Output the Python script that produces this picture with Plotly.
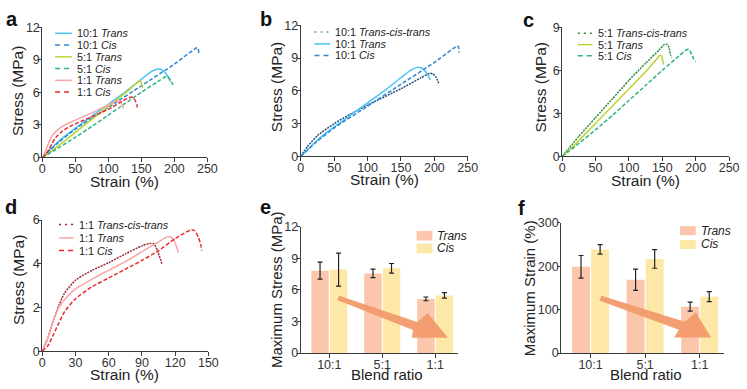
import plotly.graph_objects as go

W, H = 747, 389
FONT = "Liberation Sans, Arial, sans-serif"

# ---------------- data: stress-strain curves (strain %, stress MPa) ----------------
r10_tct_x = [0, 10, 25, 50, 75, 100, 150, 180, 193, 198, 202, 205, 207]
r10_tct_y = [0, 0.9, 1.9, 3.0, 3.9, 4.7, 6.2, 7.2, 7.6, 7.55, 7.3, 6.95, 6.6]
r10_trans_x = [0, 10, 25, 50, 75, 100, 125, 150, 165, 175, 182, 187, 191, 194]
r10_trans_y = [0, 0.6, 1.5, 2.7, 3.8, 4.9, 6.0, 7.2, 7.9, 8.15, 8.05, 7.75, 7.35, 7.0]
r10_cis_x = [0, 25, 50, 100, 150, 200, 234, 236, 237]
r10_cis_y = [0, 1.4, 2.6, 4.6, 6.6, 8.6, 10.1, 10.05, 9.5]

r5_tct_x = [0, 10, 25, 50, 75, 100, 125, 145, 153, 157, 160, 162, 164]
r5_tct_y = [0, 0.55, 1.4, 2.7, 4.0, 5.3, 6.5, 7.4, 7.8, 7.8, 7.6, 7.1, 6.9]
r5_trans_x = [0, 10, 25, 50, 75, 100, 125, 140, 147, 149, 151, 152]
r5_trans_y = [0, 0.4, 1.1, 2.3, 3.5, 4.7, 5.9, 6.7, 7.05, 7.0, 6.6, 6.4]
r5_cis_x = [0, 10, 25, 50, 75, 100, 125, 150, 175, 187, 190, 194, 197, 200]
r5_cis_y = [0, 0.35, 0.9, 1.85, 2.85, 3.9, 4.95, 6.0, 7.0, 7.45, 7.45, 7.1, 6.8, 6.6]

r1_tct_x = [0, 5, 10, 15, 20, 30, 45, 60, 75, 90, 97, 101, 104, 108]
r1_tct_y = [0, 0.6, 1.4, 2.1, 2.65, 3.25, 3.7, 4.05, 4.45, 4.82, 4.93, 4.9, 4.6, 4.0]
r1_trans_x = [0, 5, 10, 15, 20, 30, 45, 60, 75, 90, 105, 113, 117, 120, 123]
r1_trans_y = [0, 0.6, 1.4, 2.0, 2.35, 2.85, 3.3, 3.7, 4.1, 4.55, 5.0, 5.23, 5.2, 4.95, 4.5]
r1_cis_x = [0, 5, 10, 15, 20, 30, 45, 60, 75, 90, 105, 120, 130, 135, 138, 141, 143, 144]
r1_cis_y = [0, 0.25, 0.75, 1.3, 1.8, 2.4, 2.95, 3.35, 3.75, 4.15, 4.6, 5.15, 5.45, 5.56, 5.5, 5.2, 4.9, 4.6]

# ---------------- data: bar charts ----------------
ratios = ["10:1", "5:1", "1:1"]
stress_trans = [7.83, 7.57, 5.15]
stress_trans_err = [0.81, 0.40, 0.18]
stress_cis = [7.93, 8.05, 5.48]
stress_cis_err = [1.57, 0.46, 0.26]
strain_trans = [199, 169, 107]
strain_trans_err = [26, 24.5, 10.5]
strain_cis = [239, 217, 130]
strain_cis_err = [11, 21.5, 11.5]

strain_ticks = [0, 50, 100, 150, 200, 250]
strain_ticks_d = [0, 30, 60, 90, 120, 150]

# colours
C10T, C10C, C10X = "#4cc3f5", "#2e86d4", "#25507f"
C5T, C5C, C5X = "#bad532", "#2db487", "#2e8b3a"
C1T, C1C, C1X = "#f8a5a5", "#ec2a2e", "#9e2a35"
BAR_T, BAR_C = "#fcc6ad", "#fde8a8"
ARROW = "#f19a6c"

DASH = {"solid": "solid", "dash": "4px,2px", "dot": "2px,1px"}
LDASH = {"solid": "solid", "dash": "5px,4px", "dot": "2px,4px"}


def px(x, y):
    return x / W, 1 - y / H


def xdom(a, b):
    return [a / W, b / W]


def ydom(top, bottom):
    return [1 - bottom / H, 1 - top / H]


fig = go.Figure()


def curve(x, y, color, dash, xa, ya):
    fig.add_trace(go.Scatter(x=x, y=y, mode="lines", xaxis=xa, yaxis=ya,
                             line=dict(color=color, width=1.5, dash=DASH[dash], shape="spline", smoothing=0.6),
                             showlegend=False, hoverinfo="skip"))


# panel a
curve(r10_trans_x, r10_trans_y, C10T, "solid", "x", "y")
curve(r10_cis_x, r10_cis_y, C10C, "dash", "x", "y")
curve(r5_trans_x, r5_trans_y, C5T, "solid", "x", "y")
curve(r5_cis_x, r5_cis_y, C5C, "dash", "x", "y")
curve(r1_trans_x, r1_trans_y, C1T, "solid", "x", "y")
curve(r1_cis_x, r1_cis_y, C1C, "dash", "x", "y")
# panel b
curve(r10_tct_x, r10_tct_y, C10X, "dot", "x2", "y2")
curve(r10_trans_x, r10_trans_y, C10T, "solid", "x2", "y2")
curve(r10_cis_x, r10_cis_y, C10C, "dash", "x2", "y2")
# panel c
curve(r5_tct_x, r5_tct_y, C5X, "dot", "x3", "y3")
curve(r5_trans_x, r5_trans_y, C5T, "solid", "x3", "y3")
curve(r5_cis_x, r5_cis_y, C5C, "dash", "x3", "y3")
# panel d
curve(r1_tct_x, r1_tct_y, C1X, "dot", "x4", "y4")
curve(r1_trans_x, r1_trans_y, C1T, "solid", "x4", "y4")
curve(r1_cis_x, r1_cis_y, C1C, "dash", "x4", "y4")

# bar panels
idx = list(range(len(ratios)))


def bars(vals, errs, color, xa, ya):
    fig.add_trace(go.Bar(x=idx, y=vals, xaxis=xa, yaxis=ya, marker=dict(color=color, line=dict(width=0)),
                         error_y=dict(type="data", array=errs, color="#222", thickness=1.2, width=2.5),
                         showlegend=False, hoverinfo="skip"))


bars(stress_trans, stress_trans_err, BAR_T, "x5", "y5")
bars(stress_cis, stress_cis_err, BAR_C, "x5", "y5")
bars(strain_trans, strain_trans_err, BAR_T, "x6", "y6")
bars(strain_cis, strain_cis_err, BAR_C, "x6", "y6")

AX = dict(showline=True, linecolor="#3a3a3a", linewidth=1, ticks="outside",
          tickcolor="#3a3a3a", tickwidth=1, tickfont=dict(size=12.5, color="#333", family=FONT),
          showgrid=False, zeroline=False)


def xax(dom, anchor, rng, tv, tt=None):
    d = dict(AX, domain=dom, anchor=anchor, range=rng, tickvals=tv, ticklen=4, ticklabelstandoff=-4)
    if tt is not None:
        d["ticktext"] = tt
    return d


def yax(dom, anchor, rng, tv):
    return dict(AX, domain=dom, anchor=anchor, range=rng, tickvals=tv, ticklen=3, ticklabelstandoff=-4)


layout = dict(
    width=W, height=H, autosize=False, margin=dict(l=0, r=0, t=0, b=0),
    paper_bgcolor="white", plot_bgcolor="white", font=dict(family=FONT),
    barmode="group", bargap=0.3, bargroupgap=0.06,
    xaxis=xax(xdom(40, 208), "y", [0, 250], strain_ticks),
    yaxis=yax(ydom(21, 156), "x", [0, 12], [0, 3, 6, 9, 12]),
    xaxis2=xax(xdom(303, 473), "y2", [0, 250], strain_ticks),
    yaxis2=yax(ydom(19, 155), "x2", [0, 12], [0, 3, 6, 9, 12]),
    xaxis3=xax(xdom(569, 739), "y3", [0, 250], strain_ticks),
    yaxis3=yax(ydom(21, 155), "x3", [0, 9], [0, 3, 6, 9]),
    xaxis4=xax(xdom(40, 209), "y4", [0, 150], strain_ticks_d),
    yaxis4=yax(ydom(221, 357), "x4", [0, 6], [0, 2, 4, 6]),
    xaxis5=xax(xdom(303, 463), "y5", [-0.54, 2.43], idx, ratios),
    yaxis5=yax(ydom(228, 359), "x5", [0, 12], [0, 3, 6, 9, 12]),
    xaxis6=xax(xdom(568, 734), "y6", [-0.54, 2.45], idx, ratios),
    yaxis6=yax(ydom(224, 359), "x6", [0, 300], [0, 100, 200, 300]),
)
fig.update_layout(**layout)

shapes = []
annos = []
TF = dict(size=15.5, color="#222", family=FONT)


def title(text, x, y, angle=0, size=15.5):
    p = px(x, y)
    annos.append(dict(xref="paper", yref="paper", x=p[0], y=p[1], xanchor="center", yanchor="middle",
                      text=text, textangle=angle, showarrow=False, font=dict(TF, size=size)))


# axis titles
title("Strain (%)", 123.5, 181.5)
title("Strain (%)", 388.5, 179)
title("Strain (%)", 653.5, 179.5)
title("Strain (%)", 123.5, 381)
title("Blend ratio", 391, 381.5, 0, 15)
title("Blend ratio", 654, 381.5, 0, 15)
title("Stress (MPa)", 15.5, 87, -90)
title("Stress (MPa)", 278, 83, -90)
title("Stress (MPa)", 547, 83, -90)
title("Stress (MPa)", 16.5, 283, -90)
title("Maximum Stress (MPa)", 279, 293.5, -90, 15)
title("Maximum Strain (%)", 536, 292, -90, 15)


def legend_line(x0, x1, y, color, dash, label):
    a = px(x0, y)
    b = px(x1, y)
    shapes.append(dict(type="line", xref="paper", yref="paper", x0=a[0], y0=a[1], x1=b[0], y1=b[1],
                       line=dict(color=color, width=1.5, dash=LDASH[dash])))
    t = px(x1 + 3, y)
    annos.append(dict(xref="paper", yref="paper", x=t[0], y=t[1], xanchor="left", yanchor="middle",
                      text=label, showarrow=False, font=dict(size=10.8, color="#222", family=FONT)))


def legend_box(x0, x1, y0, y1, color, label, tx):
    a = px(x0, y0)
    b = px(x1, y1)
    shapes.append(dict(type="rect", xref="paper", yref="paper", x0=a[0], y0=a[1], x1=b[0], y1=b[1],
                       fillcolor=color, line=dict(width=0)))
    t = px(tx, (y0 + y1) / 2)
    annos.append(dict(xref="paper", yref="paper", x=t[0], y=t[1], xanchor="left", yanchor="middle",
                      text=label, showarrow=False, font=dict(size=12, color="#222", family=FONT)))


# legend a
ya_rows = [27.3, 39.5, 51.7, 63.9, 76.1, 88.3]
for y, c, d, lab in zip(ya_rows,
                        [C10T, C10C, C5T, C5C, C1T, C1C],
                        ["solid", "dash", "solid", "dash", "solid", "dash"],
                        ["10:1 <i>Trans</i>", "10:1 <i>Cis</i>", "5:1 <i>Trans</i>", "5:1 <i>Cis</i>",
                         "1:1 <i>Trans</i>", "1:1 <i>Cis</i>"]):
    legend_line(53, 70, y, c, d, lab)
# legend b
for y, c, d, lab in zip([26, 38.3, 50.3], ["#5aa3d8", C10T, C10C], ["dot", "solid", "dash"],
                        ["10:1 <i>Trans-cis-trans</i>", "10:1 <i>Trans</i>", "10:1 <i>Cis</i>"]):
    legend_line(317, 333, y, c, d, lab)
# legend c
for y, c, d, lab in zip([27.3, 39, 50.5], [C5X, C5T, C5C], ["dot", "solid", "dash"],
                        ["5:1 <i>Trans-cis-trans</i>", "5:1 <i>Trans</i>", "5:1 <i>Cis</i>"]):
    legend_line(585, 600, y, c, d, lab)
# legend d
for y, c, d, lab in zip([225.7, 239.5, 252.7], [C1X, C1T, C1C], ["dot", "solid", "dash"],
                        ["1:1 <i>Trans-cis-trans</i>", "1:1 <i>Trans</i>", "1:1 <i>Cis</i>"]):
    legend_line(57, 72, y, c, d, lab)
# legends e, f
legend_box(421, 437, 232.3, 242.3, BAR_T, "<i>Trans</i>", 439.5)
legend_box(421, 437, 245.5, 255.5, BAR_C, "<i>Cis</i>", 439.5)
legend_box(689, 705, 227.3, 236.7, BAR_T, "<i>Trans</i>", 708.5)
legend_box(689, 705, 241.7, 251, BAR_C, "<i>Cis</i>", 708.5)

# arrows (in axis data coordinates)
arrow_e = [(0.185, 5.45), (1.66, 2.95), (1.86, 3.8), (2.24, 1.45), (1.56, 1.45), (1.58, 2.2), (0.15, 5.05)]
arrow_f = [(0.2, 132), (1.73, 72), (1.93, 94), (2.21, 36), (1.53, 36), (1.62, 54), (0.16, 121)]


def path(pts):
    return "M " + " L ".join(f"{x},{y}" for x, y in pts) + " Z"


shapes.append(dict(type="path", xref="x5", yref="y5", path=path(arrow_e), fillcolor=ARROW,
                   line=dict(width=0), opacity=0.95, layer="above"))
shapes.append(dict(type="path", xref="x6", yref="y6", path=path(arrow_f), fillcolor=ARROW,
                   line=dict(width=0), opacity=0.95, layer="above"))

# panel letters
for lab, x, y in [("a", 9, 12), ("b", 268, 12), ("c", 535, 13), ("d", 8, 207), ("e", 267, 207), ("f", 528, 208)]:
    p = px(x, y)
    annos.append(dict(xref="paper", yref="paper", x=p[0], y=p[1], xanchor="center", yanchor="middle",
                      text=f"<b>{lab}</b>", showarrow=False, font=dict(size=20, color="#111", family=FONT)))

fig.update_layout(shapes=shapes, annotations=annos)
fig.write_html("out.html", config={"displayModeBar": False},
               post_script="document.body.style.margin='0';document.body.style.overflow='hidden';")
